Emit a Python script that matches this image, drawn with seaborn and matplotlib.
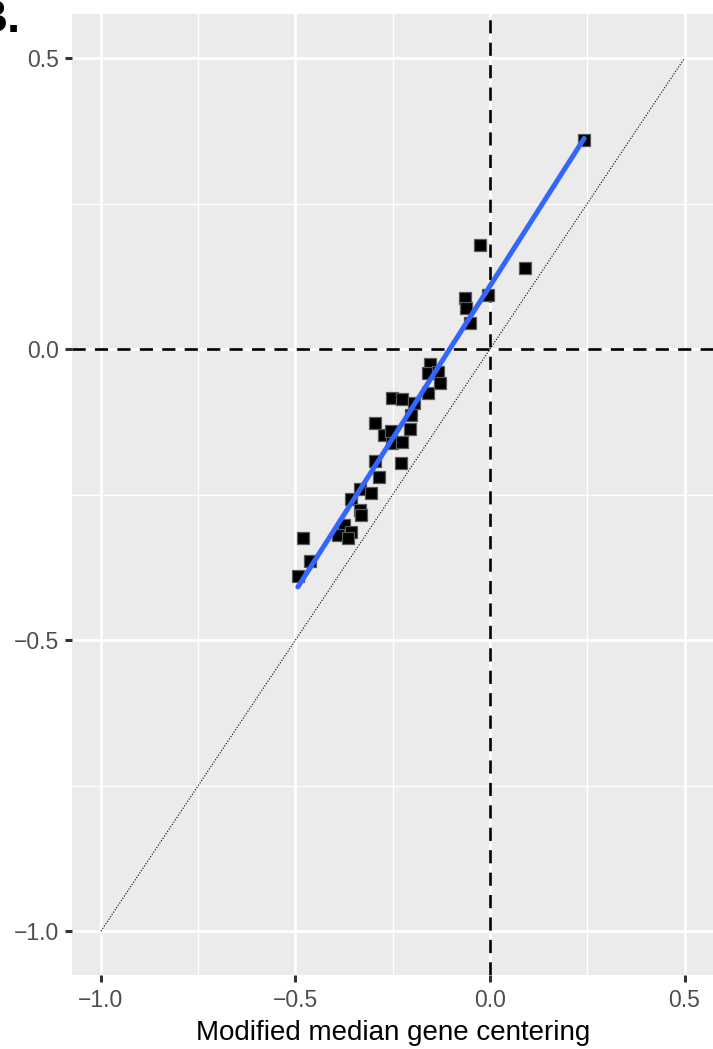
import matplotlib
matplotlib.use("Agg")
import matplotlib.pyplot as plt
from matplotlib import font_manager
from matplotlib.ticker import MultipleLocator
import seaborn as sns
import pandas as pd

# points (x = modified median gene centering, y = other method)
x_vals = [0.242, -0.026, 0.090, -0.064, -0.062, -0.051, -0.005, -0.154, -0.159,
          -0.134, -0.129, -0.159, -0.252, -0.226, -0.195, -0.203, -0.296, -0.206,
          -0.272, -0.254, -0.252, -0.226, -0.296, -0.229, -0.285, -0.334, -0.306,
          -0.357, -0.334, -0.332, -0.375, -0.391, -0.357, -0.365, -0.481, -0.463,
          -0.494]
y_vals = [0.359, 0.179, 0.139, 0.088, 0.070, 0.045, 0.093, -0.026, -0.041,
          -0.039, -0.058, -0.076, -0.084, -0.086, -0.093, -0.113, -0.127, -0.137,
          -0.148, -0.141, -0.162, -0.159, -0.192, -0.196, -0.220, -0.241, -0.247,
          -0.258, -0.277, -0.285, -0.302, -0.320, -0.314, -0.325, -0.325, -0.364,
          -0.390]
identity = [-1.0, 0.5]
tick_vals = [-1.0, -0.5, 0.0, 0.5]

df = pd.DataFrame({'x': x_vals, 'y': y_vals})

sns.set_theme(style='darkgrid')

# pick fonts, narrow one for the axis title if it is there
def has_font(name):
    try:
        font_manager.findfont(name, fallback_to_default=False)
        return True
    except Exception:
        return False

base_font = 'Liberation Sans' if has_font('Liberation Sans') else 'DejaVu Sans'
plt.rcParams['font.family'] = [base_font, 'DejaVu Sans']
plt.rcParams['axes.unicode_minus'] = True

fig = plt.figure(figsize=(7.13, 10.49), dpi=100)
ax = fig.add_axes([0.1007, 0.0708, 0.9003, 0.9155])
ax.set_facecolor('#EBEBEB')

# reference lines
ax.axhline(0, color='black', lw=1.9, ls=(0, (5, 3.5)), zorder=2)
ax.axvline(0, color='black', lw=1.9, ls=(0, (5, 3.5)), zorder=2)
ax.plot(identity, identity, color='black', lw=0.8, ls=(0, (1, 1.5)), zorder=2)

# points and linear fit
sns.regplot(data=df, x='x', y='y', ci=None, ax=ax, marker='s',
            scatter_kws={'s': 70, 'color': 'black', 'edgecolors': '#5a5a5a',
                         'linewidths': 0.9, 'alpha': 1, 'zorder': 3},
            line_kws={'color': '#3366FF', 'lw': 3.6, 'zorder': 4})

ax.set_xlim(-1.075, 0.575)
ax.set_ylim(-1.075, 0.575)
ax.set_xticks(tick_vals)
ax.set_yticks(tick_vals)
ax.set_xticklabels(['\u22121.0', '\u22120.5', '0.0', '0.5'])
ax.set_yticklabels(['\u22121.0', '\u22120.5', '0.0', '0.5'])
ax.xaxis.set_minor_locator(MultipleLocator(0.25))
ax.yaxis.set_minor_locator(MultipleLocator(0.25))

ax.grid(which='major', color='white', lw=2.0)
ax.grid(which='minor', color='white', lw=1.0)
ax.set_axisbelow(True)
for s in ax.spines.values():
    s.set_visible(False)

ax.tick_params(which='major', bottom=True, left=True, length=5, width=2.2,
               color='#333333', labelsize=16.5, labelcolor='#4D4D4D', pad=4)
ax.tick_params(which='minor', bottom=False, left=False, length=0)
ax.tick_params(axis='x', pad=5)

ax.set_xlabel('Modified median gene centering', fontsize=20, color='black',
              labelpad=6)
ax.set_ylabel('')

# panel letter, partly off the canvas like the original
fig.text(-0.036, 0.9695, 'B.', fontsize=34, fontweight='bold', ha='left',
         va='baseline', color='black')

fig.savefig('out.png', dpi=100)
